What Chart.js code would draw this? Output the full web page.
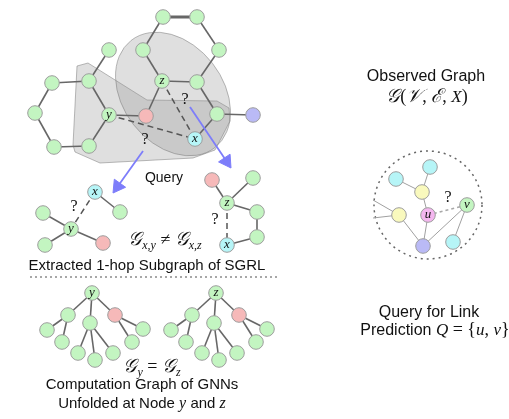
<!DOCTYPE html>
<html>
<head>
<meta charset="utf-8">
<script src="https://cdn.jsdelivr.net/npm/chart.js@4.4.0/dist/chart.umd.min.js"></script>
<style>
  html, body { margin: 0; padding: 0; background: #fff; }
  #wrap { width: 509px; height: 419px; }
</style>
</head>
<body>
<div id="wrap"><canvas id="diagram" width="509" height="419"></canvas></div>
<script>
// node lists: [x, y, kind, label]
var topNodes = [
  [163, 17, 'g', ''], [197, 17, 'g', ''], [143, 50, 'g', ''], [219, 50, 'g', ''],
  [162, 81, 'g', 'z'], [197, 82, 'g', ''], [109, 50, 'g', ''], [52, 83, 'g', ''],
  [89, 81, 'g', ''], [35, 113, 'g', ''], [109, 115, 'g', 'y'], [146, 116, 'r', ''],
  [217, 114, 'g', ''], [253, 115, 'b', ''], [54, 147, 'g', ''], [89, 146, 'g', ''],
  [195, 139, 'c', 'x']
];
var topEdges = [[0,2],[1,3],[2,4],[3,5],[4,5],[4,11],[5,12],[12,13],[12,16],
                [6,8],[7,8],[7,9],[9,14],[8,10],[10,15],[14,15],[10,11]];
var topBold = [[0,1]];
var topDashed = [[10,16],[4,16]];

var subNodes = [
  [95, 192, 'c', 'x'], [120, 212, 'g', ''], [71, 229, 'g', 'y'], [43, 213, 'g', ''],
  [45, 245, 'g', ''], [103, 243, 'r', ''],
  [212, 180, 'r', ''], [253, 178, 'g', ''], [227, 203, 'g', 'z'], [257, 212, 'g', ''],
  [257, 237, 'g', ''], [227, 245, 'c', 'x']
];
var subEdges = [[0,1],[2,3],[2,4],[2,5],[6,8],[8,7],[8,9],[9,10],[10,11]];
var subDashed = [[0,2],[8,11]];

// computation trees: one shape, two roots
var treeRoots = [[92, 'y'], [216, 'z']];
var treeDx = [0, -24, -2, 23, -45, -30, -14, 3, 21, 40, 51];
var treeY  = [293, 315, 323, 315, 330, 342, 353, 360, 353, 342, 329];
var treeKind = ['g','g','g','r','g','g','g','g','g','g','g'];
var treeEdges = [[0,1],[0,2],[0,3],[1,4],[1,5],[2,6],[2,7],[2,8],[3,9],[3,10]];

var obsNodes = [
  [430, 167, 'c', ''], [396, 179, 'c', ''], [422, 192, 'yl', ''], [399, 215, 'yl', ''],
  [428, 215, 'm', 'u'], [467, 205, 'g', 'v'], [423, 246, 'b', ''], [453, 242, 'c', ''],
  [373, 200, '', ''], [373, 218, '', '']
];
var obsEdges = [[0,2],[1,2],[2,4],[3,6],[4,6],[6,5],[5,7],[3,8],[3,9]];
var obsDashed = [[4,5]];

var arrows = [[[143, 151], [113, 193]], [[190, 107], [231, 168]]];
var separator = [[30, 277], [280, 277]];

var fills = { g: '#c3f5c1', r: '#f6b9b9', b: '#babaf6', c: '#b6f5f7', yl: '#f9f9bd', m: '#f4b6ef' };

function pt(p) { return { x: p[0], y: p[1] }; }

var datasets = [];
function addNodes(list, r) {
  var shown = list.filter(function (n) { return n[2] !== ''; });
  datasets.push({
    data: shown.map(pt),
    labelsList: shown.map(function (n) { return n[3]; }),
    showLine: false, order: 0, clip: false,
    pointRadius: r, pointHoverRadius: r,
    pointBackgroundColor: shown.map(function (n) { return fills[n[2]]; }),
    pointBorderColor: '#9d9d9d', pointBorderWidth: 1
  });
}
function addEdges(list, pairs, color, width, dash) {
  pairs.forEach(function (e) {
    datasets.push({
      data: [pt(list[e[0]]), pt(list[e[1]])],
      showLine: true, order: 2, clip: false, pointRadius: 0,
      borderColor: color, borderWidth: width, borderDash: dash || []
    });
  });
}

addEdges(topNodes, topEdges, '#676767', 1.6);
addEdges(topNodes, topBold, '#676767', 3);
addEdges(topNodes, topDashed, '#555', 1.5, [6, 4]);
addNodes(topNodes, 7.3);

addEdges(subNodes, subEdges, '#676767', 1.6);
addEdges(subNodes, subDashed, '#555', 1.5, [6, 4]);
addNodes(subNodes, 7.3);

treeRoots.forEach(function (root) {
  var tree = treeDx.map(function (dx, i) { return [root[0] + dx, treeY[i], treeKind[i], i === 0 ? root[1] : '']; });
  addEdges(tree, treeEdges, '#676767', 1.6);
  addNodes(tree, 7.3);
});

addEdges(obsNodes, obsEdges, '#a0a0a0', 1);
addEdges(obsNodes, obsDashed, '#a8a8a8', 1.6, [3, 3]);
addNodes(obsNodes, 7.3);

addEdges([separator[0], separator[1]], [[0, 1]], '#8a8a8a', 1.4, [2, 3]);

arrows.forEach(function (a) {
  var dx = a[1][0] - a[0][0], dy = a[1][1] - a[0][1];
  var len = Math.sqrt(dx * dx + dy * dy), ux = dx / len, uy = dy / len, r = 8;
  var head = [a[1][0] - ux * r, a[1][1] - uy * r];
  datasets.push({
    data: [pt(a[0]), pt(head)], showLine: true, order: 1, clip: false, pointRadius: 0,
    borderColor: '#7d7dfa', borderWidth: 1.8
  });
  datasets.push({
    data: [pt(head)], showLine: false, order: 1, clip: false,
    pointStyle: 'triangle', pointRadius: r, pointRotation: Math.atan2(ux, -uy) * 180 / Math.PI,
    pointBackgroundColor: '#7d7dfa', pointBorderColor: '#7d7dfa', pointBorderWidth: 1
  });
});

var SANS = '"Liberation Sans", Arial, sans-serif';
var SERIF = '"Liberation Serif", "DejaVu Serif", serif';
var captions = [
  ['Query', 164, 178, 14], ['Extracted 1-hop Subgraph of SGRL', 147, 266, 15],
  ['Computation Graph of GNNs', 142, 385, 15], ['Observed Graph', 426, 77, 16], ['Query for Link', 429, 313, 16]
];
var questionMarks = [[185, 100], [145, 140], [74, 207], [215, 220], [448, 198]];

function runs(ctx, cx, cy, parts) {
  var w = 0;
  parts.forEach(function (p) { ctx.font = p[1]; w += ctx.measureText(p[0]).width; });
  var x = cx - w / 2;
  ctx.textAlign = 'left'; ctx.textBaseline = 'alphabetic';
  parts.forEach(function (p) {
    ctx.font = p[1];
    ctx.fillText(p[0], x, cy + (p[2] || 0));
    x += ctx.measureText(p[0]).width;
  });
}

var decor = {
  id: 'decor',
  beforeDatasetsDraw: function (chart) {
    var ctx = chart.ctx, sx = chart.scales.x, sy = chart.scales.y;
    function P(x, y) { return [sx.getPixelForValue(x), sy.getPixelForValue(y)]; }
    ctx.save();
    // rounded polygon
    var poly = [[77,66],[88,63],[147,100],[217,101],[229,108],[230,121],[215,150],[193,158],[100,163],[75,152],[73,145]];
    ctx.beginPath();
    poly.forEach(function (p, i) { var q = P(p[0], p[1]); if (i) ctx.lineTo(q[0], q[1]); else ctx.moveTo(q[0], q[1]); });
    ctx.closePath();
    ctx.lineJoin = 'round';
    ctx.fillStyle = 'rgba(150,150,150,0.3)';
    ctx.strokeStyle = 'rgba(120,120,120,0.5)';
    ctx.lineWidth = 1;
    ctx.fill(); ctx.stroke();
    // tilted ellipse
    var c = P(173, 94);
    ctx.beginPath();
    ctx.ellipse(c[0], c[1], 68, 50, 52 * Math.PI / 180, 0, Math.PI * 2);
    ctx.fill(); ctx.stroke();
    // dotted circle around observed graph
    var o = P(428, 205);
    ctx.beginPath();
    ctx.arc(o[0], o[1], 54, 0, Math.PI * 2);
    ctx.setLineDash([2, 4]);
    ctx.strokeStyle = '#666'; ctx.lineWidth = 1.5;
    ctx.stroke();
    ctx.restore();
  },
  afterDatasetsDraw: function (chart) {
    var ctx = chart.ctx, sx = chart.scales.x, sy = chart.scales.y;
    function X(v) { return sx.getPixelForValue(v); }
    function Y(v) { return sy.getPixelForValue(v); }
    ctx.save();
    ctx.fillStyle = '#111';
    // node labels
    chart.data.datasets.forEach(function (ds, i) {
      if (!ds.labelsList) return;
      chart.getDatasetMeta(i).data.forEach(function (el, j) {
        var t = ds.labelsList[j];
        if (!t) return;
        ctx.font = 'italic 13px ' + SERIF;
        ctx.textAlign = 'center'; ctx.textBaseline = 'middle';
        ctx.fillText(t, el.x, el.y);
      });
    });
    ctx.textAlign = 'center'; ctx.textBaseline = 'middle';
    captions.forEach(function (c) {
      ctx.font = c[3] + 'px ' + SANS;
      ctx.fillText(c[0], X(c[1]), Y(c[2]));
    });
    ctx.font = '16px ' + SERIF;
    questionMarks.forEach(function (q) { ctx.fillText('?', X(q[0]), Y(q[1])); });

    var f = '15px ' + SANS, fr = '16px ' + SANS;
    var it = 'italic 16px ' + SERIF, itr = 'italic 17px ' + SERIF, rm = '18px ' + SERIF;
    var sub = 'italic 12px ' + SERIF, G = 'italic 19px ' + SERIF;
    runs(ctx, X(142), Y(408), [['Unfolded at Node ', f], ['y', it], [' and ', f], ['z', it]]);
    runs(ctx, X(435), Y(335), [['Prediction ', fr], ['Q', itr], [' = {', rm], ['u', itr], [', ', rm], ['v', itr], ['}', rm]]);
    runs(ctx, X(165), Y(245), [['\uD835\uDCA2', G], ['x,y', sub, 4], [' \u2260 ', rm], ['\uD835\uDCA2', G], ['x,z', sub, 4]]);
    runs(ctx, X(152), Y(372), [['\uD835\uDCA2', G], ['y', sub, 4], [' = ', rm], ['\uD835\uDCA2', G], ['z', sub, 4]]);
    runs(ctx, X(427), Y(102), [['\uD835\uDCA2', G], ['(', rm], ['\uD835\uDCB1', G], [', ', rm], ['\u2130', G], [', ', rm], ['X', itr], [')', rm]]);
    ctx.restore();
  }
};

new Chart(document.getElementById('diagram'), {
  type: 'scatter',
  data: { datasets: datasets },
  options: {
    responsive: false, animation: false, events: [],
    layout: { padding: 0, autoPadding: false },
    plugins: { legend: { display: false }, tooltip: { enabled: false } },
    scales: {
      x: { type: 'linear', min: 0, max: 509, display: false },
      y: { type: 'linear', min: 0, max: 419, reverse: true, display: false }
    }
  },
  plugins: [decor]
});
</script>
</body>
</html>
